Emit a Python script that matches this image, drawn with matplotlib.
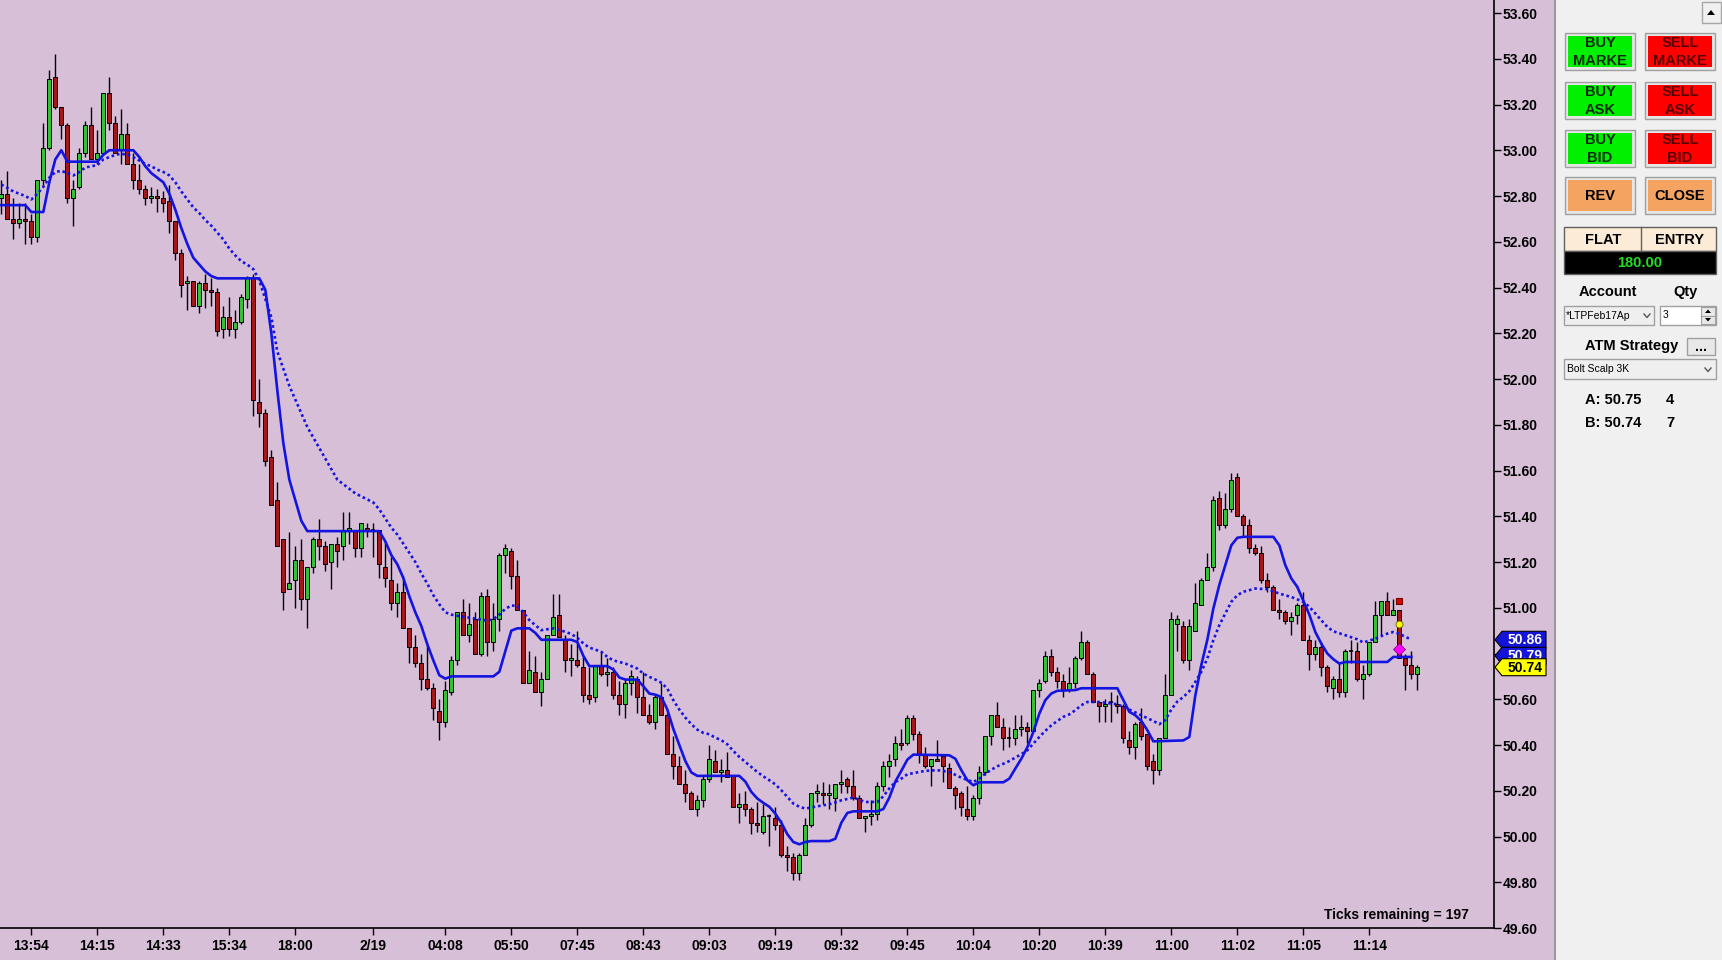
import numpy as np
import matplotlib
matplotlib.use("Agg")
import matplotlib.pyplot as plt
from matplotlib.patches import Rectangle, Polygon

plt.rcParams['font.family'] = ['Liberation Sans', 'DejaVu Sans']

# OHLC per bar
opens = [52.79, 52.81, 52.70, 52.68, 52.70, 52.69, 52.62, 52.87, 53.01, 53.32,
         53.19, 53.11, 52.79, 52.84, 52.99, 53.11, 52.96, 52.99, 53.25, 53.12,
         53.00, 53.07, 52.94, 52.87, 52.83, 52.79, 52.80, 52.79, 52.78, 52.69,
         52.55, 52.42, 52.43, 52.32, 52.42, 52.39, 52.38, 52.22, 52.27, 52.22,
         52.25, 52.35, 52.44, 51.90, 51.85, 51.66, 51.47, 51.30, 51.08, 51.12,
         51.21, 51.04, 51.18, 51.30, 51.27, 51.20, 51.28, 51.27, 51.34, 51.34,
         51.26, 51.35, 51.34, 51.34, 51.18, 51.12, 51.02, 51.07, 50.91, 50.83,
         50.76, 50.69, 50.65, 50.55, 50.50, 50.63, 50.77, 50.98, 50.88, 50.95,
         50.80, 51.05, 50.85, 50.95, 51.23, 51.25, 51.14, 50.99, 50.67, 50.72,
         50.63, 50.69, 50.88, 50.97, 50.86, 50.77, 50.77, 50.74, 50.62, 50.61,
         50.75, 50.71, 50.72, 50.62, 50.58, 50.67, 50.69, 50.61, 50.53, 50.50,
         50.61, 50.53, 50.36, 50.31, 50.23, 50.19, 50.12, 50.16, 50.25, 50.33,
         50.28, 50.29, 50.27, 50.13, 50.14, 50.12, 50.06, 50.02, 50.09, 50.08,
         50.05, 49.92, 49.91, 49.84, 49.92, 50.05, 50.19, 50.19, 50.18, 50.17,
         50.23, 50.25, 50.22, 50.17, 50.08, 50.09, 50.10, 50.22, 50.31, 50.34,
         50.41, 50.41, 50.52, 50.45, 50.36, 50.31, 50.34, 50.35, 50.30, 50.21,
         50.19, 50.12, 50.09, 50.17, 50.28, 50.44, 50.53, 50.48, 50.43, 50.43,
         50.47, 50.48, 50.46, 50.64, 50.68, 50.79, 50.72, 50.68, 50.64, 50.67,
         50.78, 50.85, 50.71, 50.59, 50.57, 50.59, 50.58, 50.57, 50.42, 50.39,
         50.50, 50.45, 50.33, 50.29, 50.43, 50.62, 50.93, 50.92, 50.77, 50.90,
         51.01, 51.12, 51.18, 51.48, 51.36, 51.43, 51.57, 51.40, 51.36, 51.26,
         51.24, 51.12, 51.09, 50.99, 50.98, 50.94, 50.97, 51.01, 50.86, 50.80,
         50.83, 50.74, 50.65, 50.69, 50.63, 50.81, 50.81, 50.69, 50.71, 50.85,
         50.97, 51.03, 50.97, 50.99, 50.78, 50.75, 50.71]
highs = [52.87, 52.91, 52.79, 52.77, 52.77, 52.72, 52.87, 53.12, 53.35, 53.42,
         53.19, 53.12, 52.87, 53.01, 53.13, 53.19, 53.09, 53.25, 53.32, 53.15,
         53.18, 53.12, 52.99, 52.94, 52.85, 52.84, 52.83, 52.82, 52.85, 52.69,
         52.57, 52.45, 52.43, 52.43, 52.46, 52.44, 52.40, 52.32, 52.36, 52.30,
         52.37, 52.45, 52.46, 52.00, 51.87, 51.69, 51.55, 51.30, 51.33, 51.27,
         51.30, 51.18, 51.31, 51.39, 51.29, 51.28, 51.31, 51.42, 51.42, 51.34,
         51.37, 51.37, 51.37, 51.34, 51.29, 51.22, 51.11, 51.14, 50.91, 50.88,
         50.80, 50.84, 50.67, 50.60, 50.68, 50.79, 50.98, 51.04, 51.02, 50.98,
         51.07, 51.08, 51.02, 51.24, 51.28, 51.26, 51.21, 50.99, 50.81, 50.79,
         50.72, 50.88, 51.06, 51.06, 50.88, 50.84, 50.90, 50.79, 50.74, 50.75,
         50.81, 50.78, 50.74, 50.68, 50.69, 50.73, 50.70, 50.72, 50.58, 50.62,
         50.67, 50.54, 50.44, 50.35, 50.29, 50.20, 50.18, 50.27, 50.40, 50.38,
         50.34, 50.37, 50.27, 50.19, 50.20, 50.13, 50.15, 50.14, 50.10, 50.13,
         50.07, 49.96, 49.93, 49.93, 50.08, 50.19, 50.23, 50.24, 50.23, 50.23,
         50.29, 50.26, 50.29, 50.18, 50.09, 50.16, 50.24, 50.33, 50.36, 50.44,
         50.47, 50.53, 50.53, 50.46, 50.39, 50.34, 50.42, 50.36, 50.32, 50.22,
         50.20, 50.22, 50.18, 50.31, 50.44, 50.53, 50.59, 50.52, 50.48, 50.53,
         50.53, 50.50, 50.64, 50.69, 50.81, 50.82, 50.74, 50.71, 50.74, 50.79,
         50.90, 50.86, 50.72, 50.59, 50.60, 50.63, 50.62, 50.58, 50.46, 50.50,
         50.56, 50.45, 50.36, 50.43, 50.71, 50.98, 50.97, 50.94, 50.95, 51.11,
         51.13, 51.24, 51.49, 51.51, 51.50, 51.59, 51.59, 51.41, 51.39, 51.28,
         51.27, 51.15, 51.10, 51.04, 50.99, 50.98, 51.02, 51.07, 50.88, 50.86,
         50.85, 50.75, 50.70, 50.76, 50.82, 50.86, 50.85, 50.75, 50.85, 51.03,
         51.03, 51.07, 51.04, 50.99, 50.80, 50.81, 50.75]
lows = [52.72, 52.70, 52.61, 52.66, 52.59, 52.59, 52.60, 52.84, 53.00, 53.18,
        53.05, 52.77, 52.67, 52.83, 52.97, 52.96, 52.94, 52.99, 53.09, 52.99,
        52.94, 52.94, 52.83, 52.81, 52.76, 52.77, 52.73, 52.73, 52.64, 52.52,
        52.36, 52.30, 52.32, 52.29, 52.31, 52.32, 52.19, 52.18, 52.19, 52.18,
        52.24, 52.31, 51.84, 51.79, 51.62, 51.45, 51.27, 50.99, 51.08, 51.00,
        50.99, 50.91, 51.15, 51.21, 51.16, 51.08, 51.18, 51.21, 51.28, 51.22,
        51.22, 51.31, 51.22, 51.13, 51.09, 50.99, 50.96, 50.91, 50.76, 50.74,
        50.64, 50.64, 50.51, 50.42, 50.48, 50.62, 50.75, 50.88, 50.85, 50.80,
        50.79, 50.79, 50.81, 50.90, 51.15, 51.08, 50.99, 50.67, 50.67, 50.63,
        50.57, 50.69, 50.88, 50.87, 50.72, 50.70, 50.74, 50.59, 50.58, 50.59,
        50.70, 50.66, 50.60, 50.53, 50.52, 50.62, 50.54, 50.53, 50.49, 50.47,
        50.53, 50.36, 50.25, 50.23, 50.15, 50.12, 50.09, 50.13, 50.24, 50.28,
        50.24, 50.26, 50.13, 50.06, 50.09, 50.01, 50.02, 50.01, 49.96, 50.03,
        49.91, 49.85, 49.81, 49.81, 49.92, 50.04, 50.15, 50.14, 50.12, 50.11,
        50.19, 50.19, 50.16, 50.08, 50.02, 50.05, 50.07, 50.20, 50.26, 50.31,
        50.38, 50.40, 50.42, 50.32, 50.30, 50.22, 50.33, 50.24, 50.21, 50.12,
        50.09, 50.07, 50.07, 50.14, 50.27, 50.40, 50.48, 50.38, 50.39, 50.40,
        50.44, 50.41, 50.46, 50.61, 50.67, 50.70, 50.65, 50.61, 50.63, 50.65,
        50.77, 50.71, 50.59, 50.50, 50.50, 50.50, 50.54, 50.41, 50.36, 50.34,
        50.42, 50.29, 50.23, 50.27, 50.43, 50.62, 50.81, 50.76, 50.73, 50.90,
        51.01, 51.12, 51.16, 51.34, 51.35, 51.42, 51.40, 51.31, 51.24, 51.23,
        51.11, 51.07, 50.99, 50.95, 50.93, 50.88, 50.93, 50.86, 50.73, 50.77,
        50.70, 50.63, 50.60, 50.61, 50.61, 50.76, 50.68, 50.60, 50.70, 50.85,
        50.88, 50.97, 50.97, 50.78, 50.64, 50.69, 50.64]
closes = [52.81, 52.70, 52.68, 52.70, 52.69, 52.62, 52.87, 53.01, 53.31, 53.19,
          53.11, 52.79, 52.83, 52.99, 53.11, 52.96, 52.99, 53.25, 53.12, 52.99,
          53.07, 52.94, 52.87, 52.83, 52.79, 52.80, 52.79, 52.77, 52.69, 52.55,
          52.41, 52.43, 52.32, 52.42, 52.39, 52.38, 52.21, 52.27, 52.22, 52.25,
          52.36, 52.44, 51.91, 51.85, 51.64, 51.45, 51.27, 51.07, 51.11, 51.21,
          51.04, 51.18, 51.30, 51.27, 51.19, 51.28, 51.25, 51.34, 51.35, 51.26,
          51.37, 51.34, 51.34, 51.19, 51.13, 51.02, 51.07, 50.91, 50.83, 50.76,
          50.69, 50.65, 50.56, 50.50, 50.64, 50.77, 50.98, 50.88, 50.93, 50.80,
          51.05, 50.85, 50.95, 51.23, 51.26, 51.14, 50.99, 50.67, 50.73, 50.63,
          50.69, 50.88, 50.96, 50.87, 50.77, 50.78, 50.75, 50.62, 50.60, 50.75,
          50.71, 50.72, 50.62, 50.58, 50.67, 50.70, 50.61, 50.53, 50.50, 50.61,
          50.53, 50.36, 50.31, 50.23, 50.19, 50.12, 50.16, 50.25, 50.34, 50.28,
          50.29, 50.26, 50.13, 50.14, 50.12, 50.06, 50.05, 50.09, 50.09, 50.05,
          49.92, 49.91, 49.84, 49.92, 50.05, 50.19, 50.20, 50.18, 50.19, 50.23,
          50.24, 50.22, 50.17, 50.08, 50.09, 50.10, 50.22, 50.31, 50.33, 50.41,
          50.40, 50.52, 50.45, 50.36, 50.31, 50.34, 50.33, 50.31, 50.21, 50.18,
          50.13, 50.09, 50.17, 50.28, 50.44, 50.53, 50.48, 50.43, 50.43, 50.47,
          50.48, 50.46, 50.64, 50.67, 50.79, 50.72, 50.68, 50.64, 50.67, 50.78,
          50.85, 50.71, 50.59, 50.57, 50.58, 50.59, 50.57, 50.43, 50.39, 50.49,
          50.44, 50.31, 50.29, 50.43, 50.62, 50.95, 50.95, 50.77, 50.92, 51.02,
          51.12, 51.18, 51.47, 51.36, 51.43, 51.56, 51.40, 51.36, 51.26, 51.24,
          51.12, 51.09, 50.99, 50.98, 50.94, 50.96, 51.01, 50.86, 50.80, 50.83,
          50.74, 50.66, 50.69, 50.63, 50.81, 50.81, 50.69, 50.71, 50.85, 50.97,
          51.03, 50.97, 50.99, 50.78, 50.75, 50.71, 50.74]

# solid indicator (bar index, value)
fast_idx = [0, 4, 5, 7, 8, 9, 10, 11, 16, 17, 18, 22, 23, 24, 25, 26, 27, 28, 29, 30,
            31, 32, 33, 34, 35, 36, 43, 44, 45, 46, 47, 48, 49, 50, 51, 63, 64, 65, 66, 67,
            68, 69, 70, 71, 72, 73, 74, 75, 82, 83, 84, 85, 86, 88, 89, 90, 95, 96, 97, 98,
            101, 102, 103, 104, 106, 107, 108, 109, 110, 111, 112, 113, 114, 115, 116, 123, 124, 125, 126, 127,
            128, 129, 130, 131, 132, 133, 134, 135, 138, 139, 140, 141, 142, 146, 147, 148, 149, 150, 151, 152,
            158, 159, 160, 161, 162, 163, 167, 168, 169, 170, 171, 172, 173, 174, 175, 176, 179, 180, 186, 187,
            188, 189, 190, 191, 192, 197, 198, 199, 200, 201, 202, 203, 204, 205, 206, 207, 212, 213, 214, 215,
            216, 217, 218, 219, 220, 221, 222, 223, 224, 231, 232, 235]
fast_val = [52.76, 52.76, 52.73, 52.73, 52.86, 52.96, 53.00, 52.95, 52.95, 52.98, 53.00, 53.00, 52.97, 52.93, 52.90, 52.88, 52.86, 52.81, 52.74, 52.66,
            52.59, 52.53, 52.50, 52.47, 52.45, 52.44, 52.44, 52.39, 52.20, 51.95, 51.72, 51.56, 51.47, 51.38, 51.335, 51.335, 51.29, 51.23, 51.19, 51.13,
            51.05, 50.98, 50.92, 50.84, 50.77, 50.705, 50.69, 50.70, 50.70, 50.72, 50.81, 50.90, 50.91, 50.91, 50.89, 50.86, 50.86, 50.85, 50.79, 50.745,
            50.745, 50.73, 50.695, 50.686, 50.686, 50.657, 50.625, 50.62, 50.61, 50.555, 50.47, 50.40, 50.33, 50.28, 50.265, 50.265, 50.24, 50.195, 50.166, 50.147,
            50.13, 50.10, 50.06, 50.01, 49.976, 49.966, 49.976, 49.98, 49.98, 49.99, 50.06, 50.103, 50.11, 50.11, 50.12, 50.17, 50.24, 50.287, 50.336, 50.358,
            50.355, 50.34, 50.29, 50.246, 50.224, 50.237, 50.237, 50.253, 50.297, 50.34, 50.39, 50.457, 50.537, 50.596, 50.625, 50.637, 50.64, 50.648, 50.648, 50.596,
            50.545, 50.53, 50.505, 50.465, 50.416, 50.42, 50.435, 50.617, 50.75, 50.86, 50.996, 51.10, 51.186, 51.273, 51.306, 51.31, 51.31, 51.273, 51.186, 51.128,
            51.091, 51.03, 50.97, 50.894, 50.843, 50.80, 50.775, 50.756, 50.763, 50.763, 50.785, 50.785]

# dotted indicator (bar index, value)
slow_idx = [0, 2, 4, 5, 6, 7, 8, 9, 10, 11, 12, 13, 14, 15, 16, 17, 18, 19, 20, 21,
            22, 23, 24, 25, 26, 27, 28, 29, 30, 31, 32, 33, 34, 35, 36, 37, 38, 39, 40, 41,
            42, 43, 44, 45, 46, 48, 51, 56, 59, 62, 63, 64, 65, 66, 67, 68, 69, 70, 71, 72,
            73, 74, 75, 77, 79, 81, 82, 83, 84, 85, 86, 87, 88, 89, 90, 92, 94, 95, 96, 97,
            98, 99, 100, 101, 102, 104, 106, 107, 108, 109, 110, 111, 112, 113, 114, 115, 116, 117, 118, 119,
            120, 121, 122, 123, 124, 125, 126, 127, 128, 129, 130, 131, 132, 133, 134, 136, 138, 140, 142, 144,
            146, 147, 148, 149, 150, 151, 154, 156, 158, 160, 162, 163, 164, 165, 166, 167, 168, 169, 170, 171,
            172, 173, 174, 175, 176, 177, 178, 179, 180, 181, 183, 186, 188, 190, 192, 193, 194, 195, 196, 197,
            198, 199, 200, 201, 202, 203, 204, 205, 206, 207, 209, 211, 213, 215, 217, 218, 219, 220, 221, 222,
            224, 226, 227, 229, 231, 232, 233, 234, 235]
slow_val = [52.85, 52.82, 52.80, 52.785, 52.81, 52.84, 52.88, 52.905, 52.91, 52.90, 52.89, 52.905, 52.925, 52.93, 52.935, 52.96, 52.97, 52.98, 52.985, 52.98,
            52.97, 52.955, 52.94, 52.93, 52.915, 52.905, 52.89, 52.86, 52.82, 52.785, 52.75, 52.725, 52.695, 52.67, 52.64, 52.61, 52.57, 52.54, 52.515, 52.50,
            52.48, 52.43, 52.35, 52.27, 52.12, 51.97, 51.79, 51.56, 51.50, 51.46, 51.43, 51.39, 51.35, 51.32, 51.28, 51.24, 51.20, 51.15, 51.105, 51.055,
            51.015, 50.98, 50.97, 50.96, 50.953, 50.943, 50.95, 50.97, 50.995, 51.01, 51.007, 50.98, 50.946, 50.924, 50.902, 50.91, 50.895, 50.885, 50.868, 50.844,
            50.826, 50.817, 50.807, 50.785, 50.77, 50.756, 50.734, 50.712, 50.698, 50.686, 50.672, 50.647, 50.596, 50.555, 50.52, 50.491, 50.467, 50.453, 50.447, 50.432,
            50.421, 50.403, 50.374, 50.348, 50.326, 50.304, 50.282, 50.263, 50.246, 50.228, 50.202, 50.173, 50.144, 50.13, 50.122, 50.132, 50.141, 50.158, 50.17, 50.151,
            50.151, 50.176, 50.21, 50.238, 50.253, 50.272, 50.287, 50.29, 50.282, 50.257, 50.238, 50.253, 50.275, 50.292, 50.307, 50.318, 50.33, 50.345, 50.36, 50.377,
            50.406, 50.435, 50.462, 50.486, 50.505, 50.523, 50.534, 50.552, 50.574, 50.588, 50.588, 50.578, 50.555, 50.53, 50.505, 50.491, 50.51, 50.555, 50.59, 50.61,
            50.635, 50.676, 50.72, 50.778, 50.858, 50.924, 50.975, 51.026, 51.055, 51.07, 51.084, 51.081, 51.062, 51.047, 51.026, 51.004, 50.975, 50.945, 50.916, 50.897,
            50.88, 50.862, 50.848, 50.865, 50.887, 50.894, 50.887, 50.872, 50.862]

time_ticks = [5, 16, 27, 38, 49, 62, 74, 85, 96, 107, 118, 129, 140, 151, 162, 173,
              184, 195, 206, 217, 228]
time_labels = ['13:54', '14:15', '14:33', '15:34', '18:00', '2/19', '04:08', '05:50',
               '07:45', '08:43', '09:03', '09:19', '09:32', '09:45', '10:04', '10:20',
               '10:39', '11:00', '11:02', '11:05', '11:14']

# order markers on the last-but-three bar
order_bar = 233
order_stop, order_entry, order_target = 51.03, 50.93, 50.82

# right-axis value flags
flag_values = [50.86, 50.79, 50.74]
flag_colors = ['#1414D8', '#1414D8', '#FFFF00']
flag_text = ['white', 'white', 'black']

BG = '#D8BFD8'
UP = '#34C234'
DN = '#A31818'
LINE = '#1414E0'

fig = plt.figure(figsize=(17.22, 9.6), dpi=100, facecolor=BG)
ax = fig.add_axes([0, 32 / 960, 1494 / 1722, 928 / 960])
ax.set_facecolor(BG)

x = np.arange(len(closes))
o = np.array(opens); c = np.array(closes)
h = np.array(highs); l = np.array(lows)

ax.vlines(x, l, h, color='black', lw=1.0, zorder=2)
up = c > o + 0.004
dn = c < o - 0.004
flat = ~(up | dn)
ax.bar(x[up], (c - o)[up], bottom=o[up], width=0.62, color=UP, edgecolor='black', lw=0.7, zorder=3)
ax.bar(x[dn], (o - c)[dn], bottom=c[dn], width=0.62, color=DN, edgecolor='black', lw=0.7, zorder=3)
ax.hlines(c[flat], x[flat] - 0.35, x[flat] + 0.35, color='black', lw=1.2, zorder=3)

ax.plot(slow_idx, slow_val, color=LINE, lw=1.9, linestyle=(0, (1, 1.1)), zorder=4)
ax.plot(fast_idx, fast_val, color=LINE, lw=1.9, zorder=5)

ax.plot([order_bar], [order_stop], 's', ms=5, mfc='#E00000', mec='#700000', mew=0.8, zorder=6)
ax.plot([order_bar], [order_entry], 'o', ms=5, mfc='#FFFF00', mec='#606000', mew=0.6, zorder=6)
ax.plot([order_bar], [order_target], 'D', ms=6, mfc='#FF00FF', mec='#800080', mew=0.6, zorder=6)

ax.set_xlim(-1.33 / 6, (1494 - 1.33) / 6)
ax.set_ylim(49.60, 53.60 + 13 / 228.7)
ax.yaxis.tick_right()
ax.set_yticks(np.arange(49.6, 53.61, 0.2))
ax.set_yticklabels([f"{v:.2f}" for v in np.arange(49.6, 53.61, 0.2)])
ax.set_xticks(time_ticks)
ax.set_xticklabels(time_labels)
ax.tick_params(axis='y', direction='out', length=5, width=1, pad=1, labelsize=10, colors='black')
ax.tick_params(axis='x', direction='out', length=5, width=1, pad=3, labelsize=10, colors='black')
for lab in ax.get_xticklabels() + ax.get_yticklabels():
    lab.set_fontweight('bold')
for s in ['top', 'left']:
    ax.spines[s].set_visible(False)
for s in ['bottom', 'right']:
    ax.spines[s].set_color('black')
    ax.spines[s].set_linewidth(1.2)

# overlay in pixel coordinates for panel and flags
ov = fig.add_axes([0, 0, 1, 1], facecolor='none')
ov.set_xlim(0, 1722)
ov.set_ylim(960, 0)
ov.axis('off')

ov.text(1469, 915, 'Ticks remaining = 197', ha='right', va='center', fontsize=10, fontweight='bold')

def price_to_px(p):
    return 960 - ax.transData.transform((0, p))[1]

# later flags sit on top of earlier ones, as on the platform
for i, (val, fc, tc) in enumerate(zip(flag_values, flag_colors, flag_text)):
    yc = price_to_px(val)
    pts = [(1495, yc), (1502, yc - 8.5), (1546, yc - 8.5), (1546, yc + 8.5), (1502, yc + 8.5)]
    ov.add_patch(Polygon(pts, closed=True, fc=fc, ec='black', lw=0.8, zorder=10 + 2 * i))
    ov.text(1525, yc + 0.5, f"{val:.2f}", ha='center', va='center', fontsize=10,
            fontweight='bold', color=tc, zorder=11 + 2 * i)

# right order panel
PANEL = '#F0F0F0'
ov.add_patch(Rectangle((1554, 0), 168, 960, fc=PANEL, ec='none'))
ov.plot([1554.5, 1554.5], [0, 960], color='#9A9A9A', lw=1.5)
ov.add_patch(Rectangle((1702, 2), 19, 21, fc=PANEL, ec='#A8A8A8', lw=1))
ov.add_patch(Polygon([(1707, 15), (1715, 15), (1711, 10)], closed=True, fc='black', ec='none'))

buttons = [
    (33, 'BUY\nMARKE', '#00F000', '#0A2A0A', 'SELL\nMARKE', '#FF0000', '#5A0000'),
    (82, 'BUY\nASK', '#00F000', '#0A2A0A', 'SELL\nASK', '#FF0000', '#5A0000'),
    (130, 'BUY\nBID', '#00F000', '#0A2A0A', 'SELL\nBID', '#FF0000', '#5A0000'),
    (177, 'REV', '#F4A460', 'black', 'CLOSE', '#F4A460', 'black'),
]
for top, t1, c1, tc1, t2, c2, tc2 in buttons:
    for left, txt, col, tcol in [(1565, t1, c1, tc1), (1645, t2, c2, tc2)]:
        ov.add_patch(Rectangle((left, top), 70, 37, fc='#E6E6E6', ec='#A0A0A0', lw=1))
        ov.add_patch(Rectangle((left + 3, top + 3), 64, 31, fc=col, ec='none'))
        ov.text(left + 35, top + 19, txt, ha='center', va='center', fontsize=10.5,
                fontweight='bold', color=tcol, linespacing=1.3)

ov.add_patch(Rectangle((1564, 227), 152, 24, fc='#FCEBD6', ec='#606060', lw=1))
ov.plot([1641, 1641], [227, 251], color='#606060', lw=1)
ov.text(1603, 239.5, 'FLAT', ha='center', va='center', fontsize=10.5, fontweight='bold')
ov.text(1679, 239.5, 'ENTRY', ha='center', va='center', fontsize=10.5, fontweight='bold')
ov.add_patch(Rectangle((1564, 251), 152, 23, fc='black', ec='#606060', lw=1))
ov.text(1640, 263, '180.00', ha='center', va='center', fontsize=10.5, fontweight='bold', color='#22DD22')

ov.text(1608, 292, 'Account', ha='center', va='center', fontsize=10.5, fontweight='bold')
ov.text(1685, 292, 'Qty', ha='center', va='center', fontsize=10.5, fontweight='bold')
ov.add_patch(Rectangle((1564, 306), 90, 19, fc='#EFEFEF', ec='#A0A0A0', lw=1))
ov.text(1566, 316, '*LTPFeb17Ap', ha='left', va='center', fontsize=7.5)
ov.plot([1644, 1647, 1650], [314, 317.5, 314], color='#555555', lw=1)
ov.add_patch(Rectangle((1660, 306), 56, 19, fc='white', ec='#A0A0A0', lw=1))
ov.text(1663, 315, '3', ha='left', va='center', fontsize=7.5)
ov.add_patch(Rectangle((1701, 307), 14, 17, fc='#E8E8E8', ec='#A0A0A0', lw=0.8))
ov.plot([1701, 1715], [315.5, 315.5], color='#A0A0A0', lw=0.8)
ov.add_patch(Polygon([(1705, 313), (1711, 313), (1708, 309.5)], closed=True, fc='black', ec='none'))
ov.add_patch(Polygon([(1705, 318), (1711, 318), (1708, 321.5)], closed=True, fc='black', ec='none'))

ov.text(1632, 346, 'ATM Strategy', ha='center', va='center', fontsize=10.5, fontweight='bold')
ov.add_patch(Rectangle((1687, 338), 28, 17, fc='#E8E8E8', ec='#A0A0A0', lw=1))
ov.text(1701, 347, '...', ha='center', va='center', fontsize=10, fontweight='bold')
ov.add_patch(Rectangle((1564, 359), 152, 20, fc='#EFEFEF', ec='#A0A0A0', lw=1))
ov.text(1567, 369.5, 'Bolt Scalp 3K', ha='left', va='center', fontsize=7.5)
ov.plot([1705, 1708, 1711], [368, 371.5, 368], color='#555555', lw=1)

ov.text(1585, 400, 'A: 50.75', ha='left', va='center', fontsize=10.5, fontweight='bold')
ov.text(1666, 400, '4', ha='left', va='center', fontsize=10.5, fontweight='bold')
ov.text(1585, 423, 'B: 50.74', ha='left', va='center', fontsize=10.5, fontweight='bold')
ov.text(1666, 423, '7', ha='left', va='center', fontsize=10.5, fontweight='bold')

fig.savefig('out.png', dpi=100, facecolor=BG)
